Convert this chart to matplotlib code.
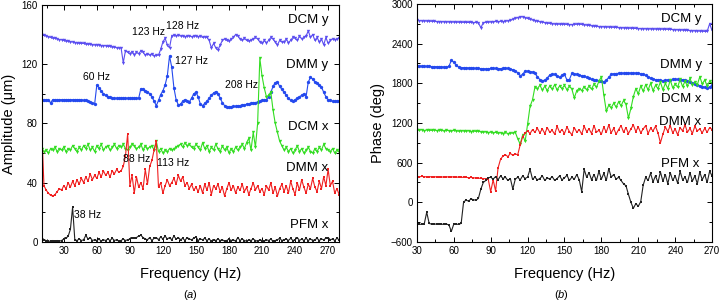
import numpy as np
import matplotlib
matplotlib.use("Agg")
import matplotlib.pyplot as plt
from matplotlib.ticker import MultipleLocator

plt.rcParams["font.family"] = ["Liberation Sans", "DejaVu Sans"]
plt.rcParams["mathtext.fontset"] = "custom"
plt.rcParams["mathtext.rm"] = "Liberation Sans"
plt.rcParams["mathtext.it"] = "Liberation Sans:italic"

# ---- panel (a): amplitude, 10..280 Hz every 2 Hz ----
freq_a = np.arange(10, 281, 2)

amp_dcm_y = [
    140, 139.5, 139, 138.5, 138, 137.5, 137.5, 137, 136.5, 136.5,
    136, 135.5, 135.5, 135, 135, 134.5, 134.5, 134, 134, 134,
    133.5, 133.5, 133.5, 133, 133, 133, 133, 132.5, 132.5, 132.5,
    132, 132, 131.5, 131.5, 131, 131, 131, 121, 129, 128,
    127, 128.5, 126.5, 128, 127, 129, 128, 126, 127, 126,
    127, 125.5, 126, 126, 130, 135, 137.5, 133, 131, 139,
    139.5, 139, 139.5, 139, 139, 138.5, 139, 139, 138.5, 139,
    139, 138.5, 139, 138, 138.5, 138, 136, 131, 134, 131,
    129.5, 133, 136, 137, 136, 135.5, 137, 138, 140, 139,
    137, 136, 137.5, 136, 135.5, 136, 137, 138, 137, 135,
    134, 136, 134.5, 136, 138, 137, 135, 133, 136, 135,
    135, 137, 134.5, 136, 138, 137.5, 136, 139, 137, 138,
    139, 142.5, 138, 140, 136, 138, 135, 137, 133, 138,
    134, 136, 137, 136.5, 137, 137.5,
]
amp_dmm_y = [
    96, 96, 96, 95.5, 94, 96, 96, 95.5, 96, 96,
    96, 96, 96, 96, 96, 96, 96, 96, 96, 95.5,
    95.5, 95, 94.5, 94, 93, 106, 104, 102, 100, 99,
    98, 97.5, 97, 97, 97, 97, 97, 97, 97, 97,
    97, 97, 97, 97, 97, 103.5, 103, 102, 101.5, 100,
    98, 95, 92, 95.5, 99.5, 102, 106, 112, 125.5, 118,
    104, 96, 92.5, 93, 95, 96, 95, 94.5, 97, 100,
    101, 98, 93, 92, 93.5, 95, 97, 99, 100.5, 101.5,
    100, 97, 94, 92, 91, 91, 91, 91.5, 91.5, 92,
    92, 92.5, 92.5, 93, 93, 93.5, 94, 94, 94.5, 95,
    95.5, 95.5, 96, 98, 101, 105, 107.5, 108, 105, 103,
    101, 99, 97, 95.5, 95, 96, 97, 98, 99, 100,
    98, 108, 111, 110, 108, 107, 106, 104.5, 101, 98,
    96, 95.5, 95, 95, 95, 95,
]
amp_dcm_x = [
    63, 61, 62, 60, 63, 62, 64, 61, 63, 62,
    64, 61, 63, 62, 65, 63, 61, 64, 62, 65,
    63, 66, 62, 64, 61, 65, 63, 66, 62, 64,
    65, 62, 64, 66, 63, 65, 64, 66, 63, 62,
    64, 66, 65, 63, 64, 66, 62, 65, 63, 64,
    65, 62, 68, 61, 63, 60, 62, 61, 63, 62,
    63, 64, 65, 66, 64, 67, 65, 66, 64, 63,
    66, 64, 62, 67, 63, 65, 61, 64, 62, 66,
    63, 61, 65, 62, 64, 60, 63, 61, 64, 62,
    64, 66, 63, 67, 70, 62, 74, 64, 80, 124,
    112, 104, 98, 99, 101, 89, 80, 74, 68, 65,
    62, 64, 61, 63, 60, 62, 65, 61, 63, 60,
    62, 64, 61, 60, 63, 61, 64, 62, 66, 63,
    62, 61, 63, 60, 62, 61,
]
amp_dmm_x = [
    75, 38, 35, 33, 31.5, 31, 32, 34, 36, 35,
    38, 36, 40, 37, 41, 38, 42, 39, 43, 40,
    44, 41, 46, 42, 45, 43, 47, 44, 48, 45,
    47, 44, 48, 46, 49, 47, 48, 51, 58, 73,
    38, 45, 33, 44, 37, 40, 36, 49, 39, 51,
    55, 62, 68, 37, 40, 33, 38, 42, 38, 40,
    43, 39, 45, 41, 44, 38, 40, 36, 39, 35,
    37, 34, 38, 33, 39, 35, 40, 32, 38, 36,
    39, 34, 37, 31, 36, 40, 35, 38, 33, 37,
    35, 39, 34, 37, 32, 36, 40, 35, 38, 34,
    36, 32, 38, 35, 40, 33, 37, 31, 36, 39,
    34, 38, 33, 41, 36, 32, 40, 35, 42, 37,
    33, 39, 36, 43, 37, 34, 41, 36, 44, 38,
    49, 38, 41, 33, 36, 32,
]
amp_pfm_x = [
    3, 1.5, 1, 0.5, 0.5, 1, 0.5, 1, 0.5, 1,
    2, 2.5, 4, 8.5, 23.5, 1.5, 1, 2, 1, 1.5,
    4.5, 2, 3, 1, 1.5, 1, 2, 0.5, 1.5, 1,
    2, 1, 2.5, 1, 1.5, 0.5, 1, 2, 1, 1.5,
    2, 3, 2.5, 3, 4, 4.5, 3, 2, 1.5, 3,
    1, 2.5, 3, 1.5, 3.5, 2, 4, 2, 3, 1.5,
    4, 2, 3, 1.5, 2.5, 1, 3, 2, 1.5, 2.5,
    3.5, 1, 2, 1.5, 2.5, 1, 2, 0.5, 1.5, 1,
    2, 1, 1.5, 0.5, 1, 2, 1, 1.5, 0.5, 3,
    1, 2, 1, 0.5, 1.5, 1, 2, 1, 0.5, 1.5,
    1, 0.5, 1.5, 1, 2, 0.5, 1, 1.5, 2.5, 1,
    1.5, 2, 1, 2.5, 1, 1.5, 3, 1, 2, 1,
    2.5, 1, 2, 1, 1.5, 2.5, 1, 2, 1.5, 2.5,
    3, 1.5, 2, 1, 2.5, 1.5,
]

# ---- panel (b): phase, 30..270 Hz every 2 Hz ----
freq_b = np.arange(30, 271, 2)

ph_dcm_y = [
    2750, 2748, 2746, 2744, 2742, 2740, 2738, 2736, 2734, 2733,
    2732, 2730, 2729, 2728, 2727, 2726, 2725, 2724, 2723, 2722,
    2721, 2720, 2722, 2718, 2720, 2716, 2640, 2718, 2722, 2725,
    2728, 2730, 2735, 2730, 2738, 2732, 2740, 2745, 2750, 2765,
    2780, 2795, 2808, 2805, 2795, 2780, 2768, 2757, 2748, 2740,
    2732, 2725, 2718, 2710, 2705, 2700, 2697, 2695, 2694, 2693,
    2692, 2690, 2688, 2688, 2690, 2693, 2695, 2690, 2685, 2680,
    2675, 2670, 2665, 2660, 2658, 2656, 2654, 2652, 2650, 2648,
    2646, 2644, 2642, 2640, 2638, 2636, 2634, 2632, 2630, 2630,
    2628, 2626, 2625, 2624, 2623, 2622, 2621, 2620, 2620, 2619,
    2618, 2617, 2616, 2615, 2613, 2611, 2609, 2607, 2605, 2603,
    2600, 2598, 2596, 2594, 2592, 2590, 2588, 2585, 2585, 2700,
    2600,
]
ph_dmm_y = [
    2065, 2062, 2060, 2058, 2056, 2055, 2053, 2052, 2051, 2050,
    2048, 2046, 2045, 2055, 2145, 2120, 2070, 2045, 2038, 2036,
    2034, 2032, 2030, 2028, 2026, 2024, 2022, 2020, 2018, 2016,
    2025, 2025, 2024, 2023, 2022, 2024, 2028, 2025, 2015, 2005,
    1990, 1960, 1915, 1935, 1985, 1983, 1978, 1970, 1950, 1900,
    1855, 1842, 1845, 1880, 1925, 1940, 1935, 1905, 1890, 1920,
    1935, 1850, 1855, 1950, 1945, 1935, 1925, 1915, 1905, 1890,
    1875, 1860, 1850, 1845, 1840, 1830, 1825, 1845, 1890, 1935,
    1945, 1948, 1950, 1952, 1953, 1954, 1955, 1955, 1955, 1954,
    1950, 1945, 1935, 1920, 1900, 1880, 1865, 1855, 1848, 1845,
    1842, 1845, 1850, 1855, 1858, 1860, 1858, 1856, 1855, 1850,
    1840, 1825, 1810, 1795, 1780, 1765, 1750, 1740, 1735, 1745,
    1770,
]
ph_dcm_x = [
    1095, 1090, 1100, 1085, 1095, 1090, 1088, 1095, 1085, 1092,
    1088, 1080, 1090, 1085, 1078, 1088, 1082, 1075, 1085, 1080,
    1076, 1084, 1070, 1080, 1072, 1078, 1065, 1060, 1068, 1055,
    1062, 1050, 1058, 1045, 1055, 1040, 1060, 1035, 1050, 1045,
    1060, 960, 880, 1020, 920, 1180, 1450, 1550, 1745, 1720,
    1770, 1700, 1755, 1690, 1760, 1710, 1780, 1700, 1760, 1720,
    1770, 1700, 1760, 1710, 1580, 1690, 1720, 1690, 1750, 1700,
    1760, 1710, 1790, 1740, 1830, 1900, 1620, 1380, 1470, 1430,
    1500, 1440, 1520, 1460, 1540, 1480, 1275, 1420, 1600, 1720,
    1640, 1760, 1680, 1780, 1700, 1800, 1690, 1770, 1720, 1820,
    1700, 1800, 1720, 1850, 1730, 1790, 1740, 1860, 1750, 1830,
    1760, 1880, 1770, 1820, 1780, 1900, 1790, 1850, 1760, 1830,
    1800,
]
ph_dmm_x = [
    390, 385, 392, 388, 385, 390, 383, 387, 384, 388,
    385, 380, 386, 382, 388, 380, 378, 384, 376, 380,
    378, 372, 376, 370, 368, 365, 362, 360, 355, 350,
    160, 340, 170, 520, 650, 700, 720, 690, 740, 710,
    730, 720, 870, 990, 1050, 1080, 1040, 1100, 1060, 1120,
    1050, 1110, 1040, 1130, 1060, 1090, 1030, 1150, 1060, 1100,
    1040, 1140, 1070, 1020, 1130, 1060, 1100, 1030, 1150, 1070,
    1110, 1040, 1160, 1060, 1090, 1030, 1140, 1060, 1170, 1050,
    1120, 1030, 1100, 1160, 1060, 1130, 1040, 1110, 1170, 1070,
    1140, 1050, 1110, 1160, 1040, 1120, 1080, 1150, 1050, 900,
    1030, 1140, 1070, 1160, 1050, 1110, 1020, 1130, 1080, 1170,
    1060, 1120, 1040, 1150, 1080, 1110, 1050, 1120, 1060, 1130,
    1100,
]
ph_pfm_x = [
    -330, -335, -330, -325, -150, -320, -330, -335, -325, -330,
    -330, -335, -330, -340, -440, -330, -335, -330, -320, 10,
    30, 20, 50, 40, 30, 60, 200, 300, 330, 370,
    380, 350, 390, 340, 400, 360, 380, 330, 360, 200,
    350, 380, 340, 400, 360, 380, 500, 350, 380, 340,
    360, 400, 330, 370, 350, 390, 330, 360, 400, 340,
    370, 410, 330, 380, 350, 420, 340, 160, 500, 380,
    450, 340, 420, 330, 470, 350, 440, 330, 510, 380,
    420, 350, 380, 330, 280, 250, 120, 0, -90, -20,
    -60, 10, 260, 380, 330, 440, 310, 400, 300, 460,
    320, 420, 280, 450, 330, 400, 290, 470, 340, 380,
    300, 450, 320, 400, 280, 460, 340, 420, 300, 470,
    400,
]

series_names = ["DCM y", "DMM y", "DCM x", "DMM x", "PFM x"]
colors = ["#5b4ef0", "#2449ee", "#33dd22", "#f02020", "#222222"]
markers = ["v", "o", "v", "s", "s"]
marker_sizes = [2.4, 2.4, 2.4, 1.8, 1.8]

# label positions (freq, value) for series names
name_pos_a = [(270, 150), (270, 119.5), (270, 77.5), (270, 50), (270, 11.5)]
name_pos_b = [(261, 2775), (262, 2077), (261, 1560), (261, 1210), (260, 585)]

peak_text = ["123 Hz", "128 Hz", "60 Hz", "127 Hz", "208 Hz", "88 Hz", "113 Hz", "38 Hz"]
peak_pos = [(107, 142), (138, 145.8), (60, 111), (146, 122), (191, 106),
            (96, 55.8), (129, 53.3), (52, 18.4)]


def style_axes(ax):
    ax.tick_params(which="both", direction="in", top=True, right=True,
                   labelsize=7, pad=3, width=0.7)
    ax.tick_params(which="major", length=3.5)
    ax.tick_params(which="minor", length=2)
    for sp in ax.spines.values():
        sp.set_linewidth(0.8)


fig = plt.figure(figsize=(7.2, 3.04), dpi=100)
ax_a = fig.add_axes([0.058, 0.204, 0.413, 0.780])
ax_b = fig.add_axes([0.579, 0.204, 0.410, 0.783])

amp_series = [amp_dcm_y, amp_dmm_y, amp_dcm_x, amp_dmm_x, amp_pfm_x]
ph_series = [ph_dcm_y, ph_dmm_y, ph_dcm_x, ph_dmm_x, ph_pfm_x]
for vals, c, m, s in zip(amp_series, colors, markers, marker_sizes):
    ax_a.plot(freq_a, vals, color=c, lw=0.8, marker=m, ms=s, mew=0)
for vals, c, m, s in zip(ph_series, colors, markers, marker_sizes):
    ax_b.plot(freq_b, vals, color=c, lw=0.8, marker=m, ms=s, mew=0)

for name, (x, y) in zip(series_names, name_pos_a):
    ax_a.text(x, y, name, ha="right", va="center", fontsize=9.5)
for name, (x, y) in zip(series_names, name_pos_b):
    ax_b.text(x, y, name, ha="right", va="center", fontsize=9.5)
for t, (x, y) in zip(peak_text, peak_pos):
    ax_a.text(x, y, t, ha="center", va="center", fontsize=7.5)

ax_a.set_xlim(10, 280)
ax_a.set_ylim(0, 160)
ax_a.xaxis.set_major_locator(MultipleLocator(30))
ax_a.xaxis.set_minor_locator(MultipleLocator(15))
ax_a.yaxis.set_major_locator(MultipleLocator(40))
ax_a.yaxis.set_minor_locator(MultipleLocator(20))
ax_a.set_xlabel("Frequency (Hz)", fontsize=10.5, labelpad=8)
ax_a.set_ylabel("Amplitude (μm)", fontsize=10.5, labelpad=4)
style_axes(ax_a)

ax_b.set_xlim(30, 270)
ax_b.set_ylim(-600, 3000)
ax_b.xaxis.set_major_locator(MultipleLocator(30))
ax_b.xaxis.set_minor_locator(MultipleLocator(15))
ax_b.yaxis.set_major_locator(MultipleLocator(600))
ax_b.yaxis.set_minor_locator(MultipleLocator(300))
ax_b.set_xlabel("Frequency (Hz)", fontsize=10.5, labelpad=8)
ax_b.set_ylabel("Phase (deg)", fontsize=10.5, labelpad=4)
style_axes(ax_b)

fig.text(0.264, 0.031, r"($\mathit{a}$)", ha="center", va="center", fontsize=8)
fig.text(0.780, 0.031, r"($\mathit{b}$)", ha="center", va="center", fontsize=8)

fig.savefig("out.png", dpi=100)
